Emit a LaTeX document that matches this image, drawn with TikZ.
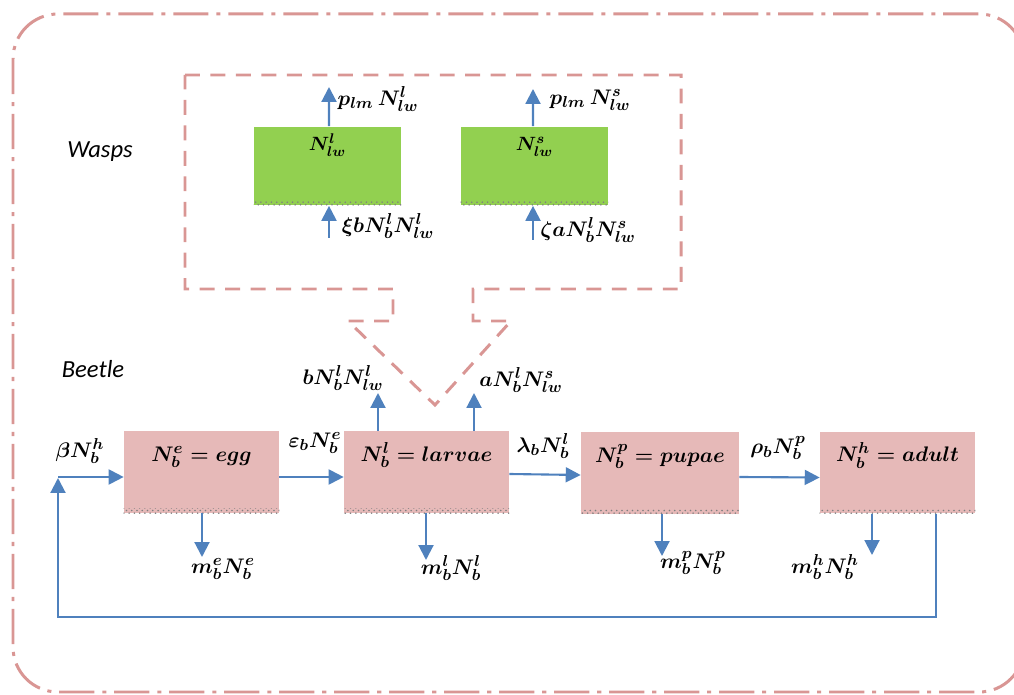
\documentclass[tikz,border=0pt]{standalone}
\usepackage{fontspec}
\newfontfamily\groupfont{Carlito}
\usetikzlibrary{arrows.meta,patterns}
\definecolor{boxpink}{HTML}{E6B9B8}
\definecolor{boxgreen}{HTML}{92D050}
\definecolor{flowblue}{HTML}{4F81BD}
\definecolor{framered}{HTML}{D99694}
\tikzset{
	stagebox/.style={fill=boxpink,inner xsep=0pt,inner ysep=0.1cm,text height=0.5cm,text depth=0.94cm,font=\fontsize{12.5}{15}\selectfont\boldmath},
	waspbox/.style={fill=boxgreen,minimum width=2.94cm,inner xsep=0pt,inner ysep=0.1cm,text height=0.38cm,text depth=1.0cm,font=\fontsize{11}{13}\selectfont\boldmath},
	rate/.style={inner sep=0pt,font=\fontsize{12.5}{15}\selectfont\boldmath},
	groupname/.style={inner sep=0pt,font=\groupfont\itshape\fontsize{14}{16}\selectfont},
	flow/.style={draw=flowblue,line width=1.2pt,-{Triangle[length=8.5pt,width=8.5pt]}},
	shade/.style={pattern=crosshatch dots,pattern color=gray}
}

\begin{document}
\begin{tikzpicture}[x=0.02cm,y=-0.02cm]
	\useasboundingbox (0,0) rectangle (1014,695);
	% frames
	\draw[framered,line width=1.7pt,dash pattern=on 20pt off 4.5pt on 2.3pt off 4.5pt,rounded corners=0.9cm] (13,14) rectangle (1024,692);
	\draw[framered,line width=1.7pt,dash pattern=on 8.5pt off 6pt] (185,75) -- (681,75) -- (681,289) -- (473,289) -- (473,321) -- (511,321) -- (435,405) -- (348,321) -- (393,321) -- (393,289) -- (185,289) -- cycle;
	\node[groupname] (wasps) at (100,152) {Wasps};
	\node[groupname] (beetle) at (93,369) {Beetle};
	% wasp boxes
	\node[waspbox] (wl) at (327.5,166) {$N^{l}_{lw}$};
	\node[waspbox] (ws) at (534.5,166) {$N^{s}_{lw}$};
	% beetle stages
	\node[stagebox,minimum width=3.1cm] (egg) at (201.5,472) {$N^{e}_{b}=egg$};
	\node[stagebox,minimum width=3.3cm] (larvae) at (426.5,472) {$N^{l}_{b}=larvae$};
	\node[stagebox,minimum width=3.16cm] (pupae) at (660,473) {$N^{p}_{b}=pupae$};
	\node[stagebox,minimum width=3.1cm] (adult) at (897.5,472.5) {$N^{h}_{b}=adult$};
	\foreach \b in {wl,ws,egg,larvae,pupae,adult}
		\fill[shade] ([yshift=0.09cm]\b.south west) rectangle (\b.south east);
	% rates
	\node[rate] (outl) at (378,99) {$p_{lm}\,N^{l}_{lw}$};
	\node[rate] (outs) at (590,100) {$p_{lm}\,N^{s}_{lw}$};
	\node[rate] (inl) at (388,226) {$\xi bN^{l}_{b}N^{l}_{lw}$};
	\node[rate] (ins) at (588,230) {$\zeta aN^{l}_{b}N^{s}_{lw}$};
	\node[rate] (predb) at (343,378) {$bN^{l}_{b}N^{l}_{lw}$};
	\node[rate] (preda) at (521,380) {$aN^{l}_{b}N^{s}_{lw}$};
	\node[rate] (birth) at (80,451) {$\beta N^{h}_{b}$};
	\node[rate] (hatch) at (315,443) {$\varepsilon_{b}N^{e}_{b}$};
	\node[rate] (pupate) at (543,446) {$\lambda_{b}N^{l}_{b}$};
	\node[rate] (emerge) at (778,448) {$\rho_{b}N^{p}_{b}$};
	\node[rate] (deathe) at (223,569) {$m^{e}_{b}N^{e}_{b}$};
	\node[rate] (deathl) at (451,568) {$m^{l}_{b}N^{l}_{b}$};
	\node[rate] (deathp) at (693,563) {$m^{p}_{b}N^{p}_{b}$};
	\node[rate] (deathh) at (825,567) {$m^{h}_{b}N^{h}_{b}$};
	% free ends
	\coordinate (wlout) at (329,87);
	\coordinate (wsout) at (533,89);
	\coordinate (wlin) at (329,238);
	\coordinate (wsin) at (533,240);
	\coordinate (lb) at (378,393);
	\coordinate (la) at (474,393);
	\coordinate (ee) at (202,557);
	\coordinate (le) at (426,560);
	\coordinate (pe) at (662,556);
	\coordinate (ae) at (872,555);
	\coordinate (back) at (58,477);
	% wasp flows
	\draw[flow] ([xshift=0.03cm]wl.north) -- (wlout);
	\draw[flow] ([xshift=-0.03cm]ws.north) -- (wsout);
	\draw[flow] (wlin) -- (wlin |- wl.south);
	\draw[flow] (wsin) -- (wsin |- ws.south);
	% beetle flows
	\draw[flow] (larvae.north -| lb) -- (lb);
	\draw[flow] (larvae.north -| la) -- (la);
	\draw[flow] ([yshift=-0.1cm]egg.east) -- ([yshift=-0.1cm]larvae.west);
	\draw[flow] ([yshift=-0.04cm]larvae.east) -- ([yshift=-0.04cm]pupae.west);
	\draw[flow] ([yshift=-0.08cm]pupae.east) -- ([yshift=-0.1cm]adult.west);
	\draw[flow] (egg.south -| ee) -- (ee);
	\draw[flow] (larvae.south -| le) -- (le);
	\draw[flow] (pupae.south -| pe) -- (pe);
	\draw[flow] (adult.south -| ae) -- (ae);
	\draw[flow] ([xshift=0.77cm]adult.south) |- (58,617) -- ([yshift=-0.02cm]back);
	\draw[flow] (back) -- (back -| egg.west);
\end{tikzpicture}
\end{document}
